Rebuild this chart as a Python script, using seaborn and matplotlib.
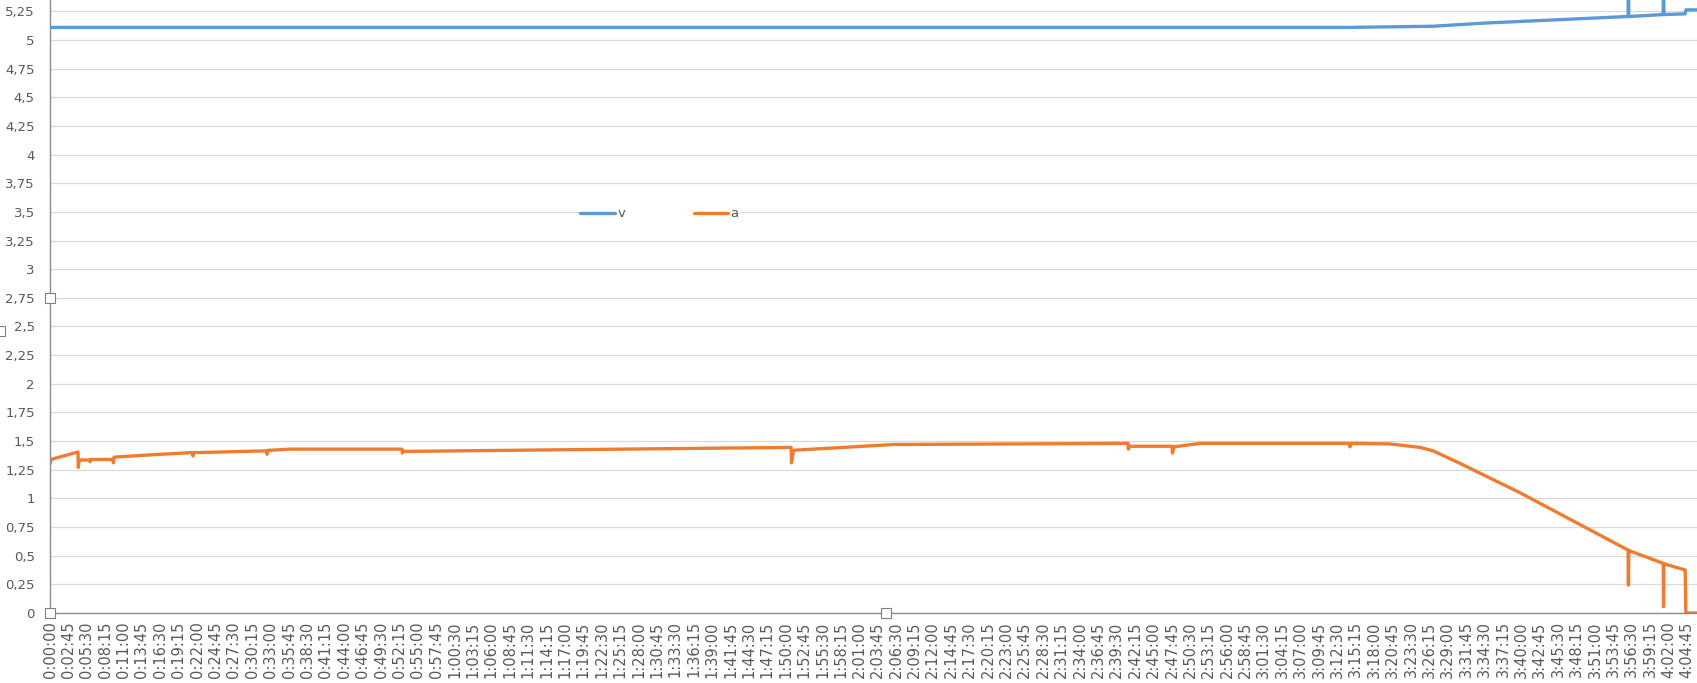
import numpy as np
import pandas as pd
import matplotlib
matplotlib.use('Agg')
import matplotlib.pyplot as plt
import seaborn as sns

# Data (time in seconds since start)
v_time = [0, 11662, 12408, 12857, 14157, 14160, 14163, 14472, 14475, 14478, 14669, 14675, 14776]
v_vals = [5.11, 5.11, 5.12, 5.147, 5.205, 5.70, 5.205, 5.222, 5.70, 5.222, 5.228, 5.263, 5.263]

a_time = [0, 10, 251, 254, 262, 355, 359, 363, 565, 569, 575, 897, 1280, 1283, 1290, 1346,
          1940, 1947, 1955, 1974, 2153, 3158, 3161, 3175,
          6648, 6652, 6670, 7563, 9671, 9674, 9685, 10066, 10069, 10085, 10318,
          11650, 11662, 11675, 12022, 12291, 12408, 12650, 13188,
          14157, 14160, 14163, 14418, 14472, 14475, 14478, 14669, 14675, 14776]
a_vals = [1.30, 1.34, 1.405, 1.27, 1.335, 1.335, 1.32, 1.34, 1.34, 1.31, 1.36, 1.38, 1.40, 1.37, 1.40, 1.40,
          1.415, 1.385, 1.42, 1.42, 1.43, 1.43, 1.395, 1.41,
          1.445, 1.31, 1.42, 1.47, 1.48, 1.43, 1.455, 1.455, 1.395, 1.45, 1.48,
          1.48, 1.45, 1.48, 1.475, 1.445, 1.415, 1.305, 1.049,
          0.549, 0.244, 0.545, 0.453, 0.433, 0.055, 0.43, 0.375, 0.0, 0.0]

tick_step = 165
last_tick = 14685
y_ticks = np.arange(0, 5.26, 0.25)

df = pd.DataFrame({
    't': v_time + a_time,
    'val': v_vals + a_vals,
    'series': ['v'] * len(v_time) + ['a'] * len(a_time),
})

sns.set_style('white')
plt.rcParams['font.family'] = ['DejaVu Sans']

W, H = 1697, 683
fig = plt.figure(figsize=(W / 100, H / 100), dpi=100)
ax = fig.add_axes([50 / W, 70 / H, 1 - 50 / W, 1 - 70 / H])

sns.lineplot(data=df, x='t', y='val', hue='series', estimator=None, sort=False,
             palette={'v': '#5B9BD5', 'a': '#ED7D31'}, linewidth=2.4, ax=ax)

xt = np.arange(0, last_tick + 1, tick_step)
ax.set_xticks(xt)
ax.set_xticklabels([f"{s // 3600}:{(s % 3600) // 60:02d}:{s % 60:02d}" for s in xt],
                   rotation=90, fontsize=10.5, color='#595959')
ax.set_yticks(y_ticks)
ax.set_yticklabels([f"{v:g}".replace('.', ',') for v in y_ticks], fontsize=9.5, color='#595959')
ax.tick_params(axis='x', length=0, pad=6)
ax.tick_params(axis='y', length=0, pad=11)

ax.grid(axis='y', color='#D9D9D9', linewidth=0.9)
ax.grid(axis='x', visible=False)
ax.set_axisbelow(True)
for side in ['top', 'right']:
    ax.spines[side].set_visible(False)
for side in ['left', 'bottom']:
    ax.spines[side].set_color('#8C8C8C')
    ax.spines[side].set_linewidth(1.0)
ax.set_xlabel('')
ax.set_ylabel('')

leg = ax.legend(loc='center', bbox_to_anchor=(659.5 / W, 1 - 214 / H), bbox_transform=fig.transFigure,
                ncol=2, frameon=True, facecolor='white', edgecolor='none', fancybox=False,
                framealpha=1, handlelength=2.6, columnspacing=5.2, handletextpad=0.2,
                fontsize=9.5, borderpad=0.1)
for txt in leg.get_texts():
    txt.set_color('#595959')

# selection handles
hx = [50 / W, 50 / W, 886 / W, 0]
hy = [1 - 298 / H, 1 - 613 / H, 1 - 613 / H, 1 - 331 / H]
ax.plot(hx, hy, linestyle='none', marker='s', markersize=6.5, mfc='white', mec='#7F7F7F',
        mew=0.8, transform=fig.transFigure, clip_on=False, zorder=10)
ax.set_xlim(0, 14775)
ax.set_ylim(0, 5.349)

fig.savefig('out.png', dpi=100)
